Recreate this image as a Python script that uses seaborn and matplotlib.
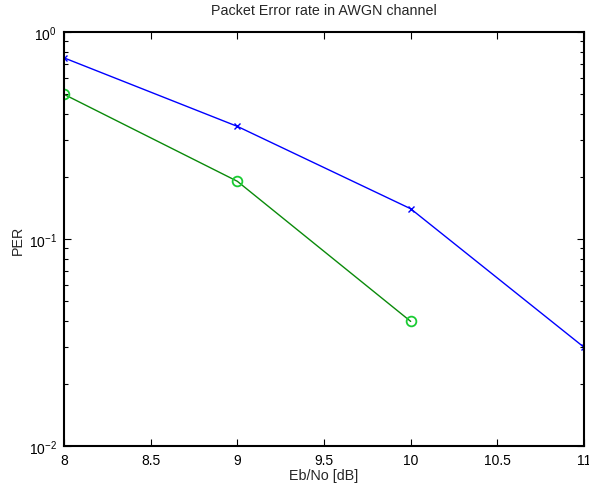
import matplotlib
matplotlib.use("Agg")
import matplotlib.pyplot as plt
import seaborn as sns
import numpy as np
from matplotlib.ticker import LogLocator, FixedLocator, LogFormatterSciNotation, NullFormatter

sns.set_style("white")
plt.rcParams['font.family'] = ['Liberation Sans', 'DejaVu Sans']
plt.rcParams['mathtext.fontset'] = 'custom'
plt.rcParams['mathtext.rm'] = 'Liberation Sans'
plt.rcParams['mathtext.it'] = 'Liberation Sans'

ebno_a = [8, 9, 10, 11]
per_a = [0.75, 0.35, 0.14, 0.03]
ebno_b = [8, 9, 10]
per_b = [0.50, 0.19, 0.04]
xticks = [8, 8.5, 9, 9.5, 10, 10.5, 11]
xticklabels = ['8', '8.5', '9', '9.5', '10', '10.5', '11']

fig = plt.figure(figsize=(5.89, 4.89), dpi=100)
ax = fig.add_axes([0.1087, 0.0859, 0.8828, 0.8466])

sns.lineplot(x=ebno_a, y=per_a, ax=ax, color='#0000ff', linewidth=1.0,
             marker='x', markersize=4, markeredgewidth=1.0, markeredgecolor='#0000ff')
sns.lineplot(x=ebno_b, y=per_b, ax=ax, color='#0a8a0a', linewidth=1.0,
             marker='o', markersize=7, markerfacecolor='none',
             markeredgecolor='#1acc33', markeredgewidth=1.3)

ax.set_yscale('log')
ax.set_xlim(8, 11)
ax.set_ylim(1e-2, 1e0)
ax.set_xticks(xticks)
ax.set_xticklabels(xticklabels)
ax.yaxis.set_major_locator(FixedLocator([1e-2, 1e-1, 1e0]))
ax.yaxis.set_major_formatter(LogFormatterSciNotation())
ax.yaxis.set_minor_locator(LogLocator(base=10, subs=np.arange(2, 10), numticks=10))
ax.yaxis.set_minor_formatter(NullFormatter())

for s in ax.spines.values():
    s.set_visible(True)
    s.set_color('black')
    s.set_linewidth(1.5)
ax.tick_params(which='both', direction='in', top=True, right=True, left=True, bottom=True,
               labelsize=10, colors='black')
ax.tick_params(which='major', length=5, width=0.8, pad=5)
ax.tick_params(which='minor', length=3, width=0.8)
ax.grid(False)

ax.set_title('Packet Error rate in AWGN channel', fontsize=10.3, pad=13)
ax.set_xlabel('Eb/No [dB]', fontsize=10.3, labelpad=1)
ax.set_ylabel('PER', fontsize=10.3, labelpad=3)

fig.savefig('out.png', dpi=100, facecolor='white')
